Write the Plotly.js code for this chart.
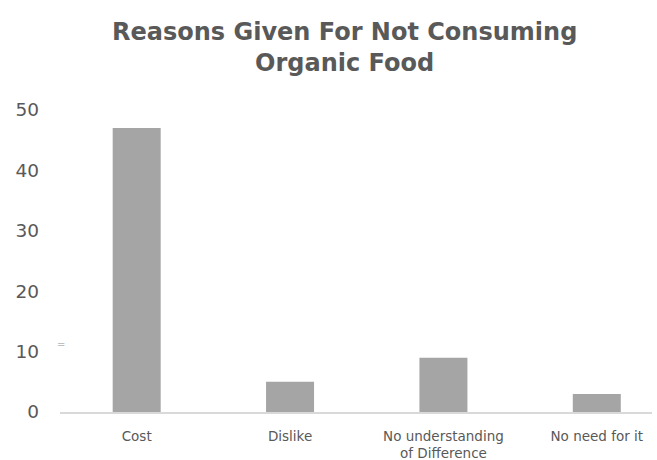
<!DOCTYPE html>
<html>
<head>
<meta charset="utf-8">
<script src="https://cdn.plot.ly/plotly-3.0.1.min.js"></script>
<style>html,body{margin:0;padding:0;background:#fff;}#chart{width:657px;height:460px;}</style>
</head>
<body>
<div id="chart"></div>
<script>
const categories = ["Cost", "Dislike", "No understanding<br>of Difference", "No need for it"];
const values = [47, 5, 9, 3];
const yTicks = [0, 10, 20, 30, 40, 50];
const titleText = "<b>Reasons Given For Not Consuming<br>Organic Food</b>";

const trace = {
  type: "bar",
  x: categories,
  y: values,
  marker: {color: "#A5A5A5"},
  hoverinfo: "skip"
};

const layout = {
  width: 657,
  height: 460,
  margin: {l: 60, r: 5, t: 110, b: 48},
  paper_bgcolor: "#ffffff",
  plot_bgcolor: "#ffffff",
  bargap: 0.687,
  showlegend: false,
  font: {family: "DejaVu Sans, sans-serif", color: "#595959"},
  xaxis: {
    type: "category",
    range: [-0.5, 3.36],
    showline: true,
    linecolor: "#D9D9D9",
    linewidth: 1.5,
    showgrid: false,
    zeroline: false,
    ticks: "",
    tickfont: {size: 13.5, color: "#595959"},
    ticklabelstandoff: 11
  },
  yaxis: {
    range: [0, 50],
    tickvals: yTicks,
    ticktext: yTicks.map(String),
    showgrid: false,
    zeroline: false,
    showline: false,
    ticks: "",
    tickfont: {size: 18.5, color: "#595959"},
    ticklabelstandoff: 20
  },
  annotations: [{
    text: titleText,
    xref: "paper", yref: "paper",
    x: 0.481, y: 1.208,
    xanchor: "center", yanchor: "middle",
    showarrow: false,
    font: {size: 24, color: "#595959", family: "DejaVu Sans, sans-serif"}
  }, {
    text: "=",
    xref: "paper", yref: "y",
    x: -0.008, y: 11.2,
    showarrow: false,
    font: {size: 10, color: "#BFBFBF"}
  }]
};

Plotly.newPlot("chart", [trace], layout, {displayModeBar: false, staticPlot: true});
</script>
</body>
</html>
